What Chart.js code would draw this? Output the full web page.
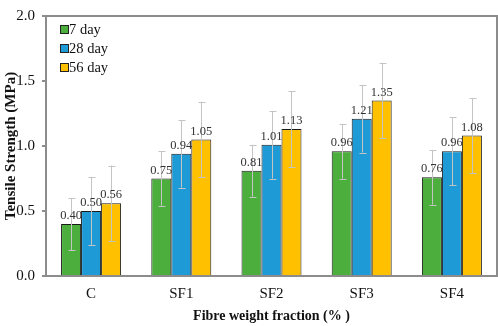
<!DOCTYPE html>
<html>
<head>
<meta charset="utf-8">
<script src="https://cdn.jsdelivr.net/npm/chart.js@4.4.1/dist/chart.umd.min.js"></script>
<style>
  html, body { margin: 0; padding: 0; background: #fff; }
  .chart-container { width: 498px; height: 326px; position: relative; }
</style>
</head>
<body>
<div class="chart-container">
  <canvas id="chart" width="498" height="326"></canvas>
</div>
<script>
const categories = ['C', 'SF1', 'SF2', 'SF3', 'SF4'];
const seriesNames = ['7 day', '28 day', '56 day'];
const day7 = [0.40, 0.75, 0.81, 0.96, 0.76];
const day28 = [0.50, 0.94, 1.01, 1.21, 0.96];
const day56 = [0.56, 1.05, 1.13, 1.35, 1.08];
const err7 = [0.20, 0.21, 0.20, 0.21, 0.21];
const err28 = [0.26, 0.26, 0.26, 0.26, 0.26];
const err56 = [0.29, 0.29, 0.29, 0.29, 0.29];
const yTicks = [0, 0.5, 1.0, 1.5, 2.0];

const colors = ['#4cae3c', '#1e9bd7', '#ffc000'];
const serif = '"Liberation Serif", "Times New Roman", serif';

// error bars + value labels, positioned through the bar elements and y scale
const barExtras = {
  id: 'barExtras',
  afterDatasetsDraw(chart, args, opts) {
    const ctx = chart.ctx;
    const y = chart.scales.y;
    ctx.save();
    chart.data.datasets.forEach((ds, di) => {
      const meta = chart.getDatasetMeta(di);
      meta.data.forEach((bar, i) => {
        const v = ds.data[i];
        const e = ds.errors[i];
        const top = y.getPixelForValue(v + e);
        const bot = y.getPixelForValue(v - e);
        const x = Math.round(bar.x) + 0.5;
        ctx.strokeStyle = '#c4c4c4';
        ctx.lineWidth = 1;
        ctx.beginPath();
        ctx.moveTo(x, top); ctx.lineTo(x, bot);
        ctx.moveTo(x - 3, Math.round(top) + 0.5); ctx.lineTo(x + 4, Math.round(top) + 0.5);
        ctx.moveTo(x - 3, Math.round(bot) + 0.5); ctx.lineTo(x + 4, Math.round(bot) + 0.5);
        ctx.stroke();
      });
    });
    ctx.font = '12.5px ' + serif;
    ctx.fillStyle = '#333';
    ctx.textAlign = 'center';
    ctx.textBaseline = 'alphabetic';
    chart.data.datasets.forEach((ds, di) => {
      const meta = chart.getDatasetMeta(di);
      meta.data.forEach((bar, i) => {
        ctx.fillText(ds.data[i].toFixed(2), bar.x, bar.y - 5);
      });
    });
    // plot frame
    const a = chart.chartArea;
    ctx.strokeStyle = '#8c8c8c';
    ctx.lineWidth = 2;
    ctx.strokeRect(a.left, a.top, a.right - a.left, a.bottom - a.top);
    // legend inside plot
    ctx.font = '14.5px ' + serif;
    ctx.textAlign = 'left';
    ctx.textBaseline = 'middle';
    chart.data.datasets.forEach((ds, di) => {
      const ly = a.top + 14 + di * 19;
      ctx.fillStyle = ds.backgroundColor;
      ctx.fillRect(a.left + 15, ly - 4, 7, 7);
      ctx.strokeStyle = '#222';
      ctx.lineWidth = 1;
      ctx.strokeRect(a.left + 14.5, ly - 4.5, 8, 8);
      ctx.fillStyle = '#111';
      ctx.fillText(ds.label, a.left + 23, ly);
    });
    ctx.restore();
  }
};

const makeSet = (label, data, errors, color) => ({
  label: label,
  data: data,
  errors: errors,
  backgroundColor: color,
  borderColor: '#1a1a1a',
  borderWidth: 1,
  categoryPercentage: 0.665,
  barPercentage: 1.0
});

new Chart(document.getElementById('chart').getContext('2d'), {
  type: 'bar',
  data: {
    labels: categories,
    datasets: [
      makeSet(seriesNames[0], day7, err7, colors[0]),
      makeSet(seriesNames[1], day28, err28, colors[1]),
      makeSet(seriesNames[2], day56, err56, colors[2])
    ]
  },
  options: {
    responsive: false,
    animation: false,
    layout: { padding: { top: 5, right: 1, left: 0, bottom: 0 } },
    plugins: {
      legend: { display: false },
      tooltip: { enabled: false }
    },
    scales: {
      x: {
        grid: { display: false },
        border: { display: false },
        ticks: { color: '#111', font: { family: serif, size: 15 }, padding: 1 },
        title: {
          display: true,
          text: 'Fibre weight fraction (% )',
          color: '#111',
          font: { family: serif, size: 14, weight: 'bold' },
          padding: { top: 0, bottom: 1 }
        },
        afterFit: s => { s.height = 50; }
      },
      y: {
        min: 0,
        max: 2.0,
        afterBuildTicks: s => { s.ticks = yTicks.map(v => ({ value: v })); },
        grid: { drawOnChartArea: false, color: '#8c8c8c', tickLength: 4, lineWidth: 2 },
        border: { display: false },
        ticks: {
          color: '#111',
          font: { family: serif, size: 15 },
          padding: 7,
          callback: v => Number(v).toFixed(1)
        },
        title: {
          display: true,
          text: 'Tensile Strength (MPa)',
          color: '#111',
          font: { family: serif, size: 15, weight: 'bold' },
          padding: { top: 2, bottom: 0 }
        },
        afterFit: s => { s.width = 46; }
      }
    }
  },
  plugins: [barExtras]
});
</script>
</body>
</html>
